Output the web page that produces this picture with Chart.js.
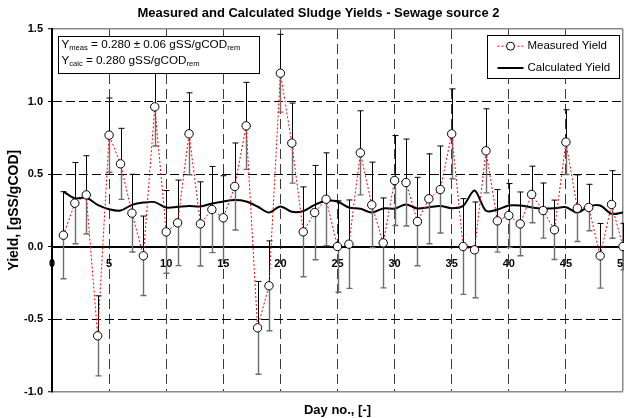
<!DOCTYPE html>
<html>
<head>
<meta charset="utf-8">
<title>Sludge Yields</title>
<script src="https://cdn.jsdelivr.net/npm/chart.js@4.4.1/dist/chart.umd.min.js"></script>
<style>
    html, body { margin: 0; padding: 0; background: #fff; }
    #wrap { width: 624px; height: 418px; }
</style>
</head>
<body>
<div id="wrap"><canvas id="yieldChart" width="624" height="418"></canvas></div>
<script>
// Day numbers (x values)
const days = [1, 2, 3, 4, 5, 6, 7, 8, 9, 10, 11, 12, 13, 14, 15, 16, 17, 18, 19, 20,
    21, 22, 23, 24, 25, 26, 27, 28, 29, 30, 31, 32, 33, 34, 35, 36, 37, 38, 39, 40,
    41, 42, 43, 44, 45, 46, 47, 48, 49, 50];

// Measured yield, gSS/gCOD
const measuredYield = [0.078, 0.299, 0.356, -0.616, 0.768, 0.570, 0.230, -0.064, 0.963, 0.101,
    0.163, 0.777, 0.156, 0.255, 0.198, 0.414, 0.832, -0.561, -0.271, 1.195,
    0.713, 0.101, 0.234, 0.326, 0.000, 0.016, 0.646, 0.287, 0.025, 0.455,
    0.441, 0.172, 0.329, 0.393, 0.777, 0.000, -0.023, 0.660, 0.177, 0.214,
    0.156, 0.359, 0.248, 0.115, 0.720, 0.264, 0.269, -0.064, 0.290, 0.000];

// Error bar half widths of the measured yield
const measuredErr = [0.300, 0.280, 0.270, 0.276, 0.256, 0.245, 0.268, 0.274, 0.270, 0.285,
    0.295, 0.283, 0.290, 0.297, 0.290, 0.300, 0.300, 0.320, 0.310, 0.268,
    0.276, 0.310, 0.325, 0.320, 0.315, 0.305, 0.290, 0.295, 0.310, 0.310,
    0.300, 0.305, 0.310, 0.300, 0.310, 0.330, 0.330, 0.290, 0.216, 0.220,
    0.220, 0.195, 0.190, 0.205, 0.223, 0.230, 0.160, 0.223, 0.233, 0.160];

// Calculated yield, gSS/gCOD
const calculatedYield = [0.379, 0.332, 0.336, 0.287, 0.257, 0.248, 0.287, 0.303, 0.306, 0.269,
    0.274, 0.280, 0.276, 0.297, 0.310, 0.320, 0.310, 0.276, 0.234, 0.276,
    0.239, 0.244, 0.287, 0.315, 0.310, 0.269, 0.260, 0.234, 0.262, 0.262,
    0.290, 0.262, 0.271, 0.280, 0.264, 0.280, 0.386, 0.246, 0.255, 0.283,
    0.283, 0.269, 0.262, 0.264, 0.271, 0.234, 0.276, 0.283, 0.225, 0.234];

const xTicks = [0, 5, 10, 15, 20, 25, 30, 35, 40, 45, 50];
const yTicks = [-1.0, -0.5, 0.0, 0.5, 1.0, 1.5];

const seriesNames = ['Measured Yield', 'Calculated Yield'];

// Stats box lines: [main, subscript, main, subscript]
const statsLines = [
    ['Y', 'meas', ' = 0.280 \u00b1 0.06 gSS/gCOD', 'rem'],
    ['Y', 'calc', ' = 0.280 gSS/gCOD', 'rem'],
];

const FONT = "'Liberation Sans', Arial, Helvetica, sans-serif";
Chart.defaults.font.family = FONT;
Chart.defaults.color = '#000';

const X_MIN = xTicks[0], X_MAX = xTicks[xTicks.length - 1];
const Y_MIN = yTicks[0], Y_MAX = yTicks[yTicks.length - 1];

// Draws the vertical error bars under the measured series
const errorBars = {
    id: 'errorBars',
    beforeDatasetDraw(chart, args) {
        if (args.index !== 0) return;
        const { ctx } = chart;
        const xs = chart.scales.x, ys = chart.scales.y;
        const cap = 3;
        ctx.save();
        for (let i = 0; i < days.length; i++) {
            const px = Math.round(xs.getPixelForValue(days[i])) + 0.5;
            const pv = ys.getPixelForValue(measuredYield[i]);
            const pt = ys.getPixelForValue(measuredYield[i] + measuredErr[i]);
            const pb = ys.getPixelForValue(measuredYield[i] - measuredErr[i]);
            // plus part
            ctx.strokeStyle = '#000';
            ctx.lineWidth = 1;
            ctx.beginPath();
            ctx.moveTo(px, pv);
            ctx.lineTo(px, pt);
            ctx.moveTo(px - cap, pt);
            ctx.lineTo(px + cap, pt);
            ctx.stroke();
            // minus part
            ctx.strokeStyle = '#6e6e6e';
            ctx.lineWidth = 1.4;
            ctx.beginPath();
            ctx.moveTo(px, pv);
            ctx.lineTo(px, pb);
            ctx.moveTo(px - cap, pb);
            ctx.lineTo(px + cap, pb);
            ctx.stroke();
        }
        ctx.restore();
    },
};

// Stats box (top left) and legend box (top right)
const insetBoxes = {
    id: 'insetBoxes',
    afterDatasetsDraw(chart) {
        const { ctx, chartArea } = chart;
        ctx.save();

        // stats box
        const sx = Math.round(chartArea.left + 6) + 0.5, sy = Math.round(chartArea.top + 7) + 0.5;
        const sw = 201, sh = 37;
        ctx.fillStyle = '#fff';
        ctx.fillRect(sx, sy, sw, sh);
        ctx.strokeStyle = '#000';
        ctx.lineWidth = 1;
        ctx.strokeRect(sx, sy, sw, sh);
        ctx.fillStyle = '#000';
        ctx.textBaseline = 'alphabetic';
        ctx.textAlign = 'left';
        statsLines.forEach((parts, row) => {
            let tx = sx + 3;
            const base = sy + 11.5 + row * 16.3;
            parts.forEach((txt, k) => {
                const isSub = k % 2 === 1;
                ctx.font = (isSub ? '7.6px ' : '11.7px ') + FONT;
                ctx.fillText(txt, tx, isSub ? base + 2 : base);
                tx += ctx.measureText(txt).width;
            });
        });

        // legend box
        const lx = Math.round(chartArea.right - 136) + 0.5, ly = Math.round(chartArea.top + 6) + 0.5;
        const lw = 132, lh = 43;
        ctx.fillStyle = '#fff';
        ctx.fillRect(lx, ly, lw, lh);
        ctx.strokeStyle = '#000';
        ctx.strokeRect(lx, ly, lw, lh);
        ctx.font = '11.5px ' + FONT;
        ctx.textBaseline = 'middle';
        const rows = [ly + 10.7, ly + 32.5];

        // measured sample
        ctx.strokeStyle = '#ff0000';
        ctx.lineWidth = 1;
        ctx.setLineDash([2, 2]);
        ctx.beginPath();
        ctx.moveTo(lx + 10, rows[0]);
        ctx.lineTo(lx + 36, rows[0]);
        ctx.stroke();
        ctx.setLineDash([]);
        ctx.fillStyle = '#fff';
        ctx.strokeStyle = '#000';
        ctx.beginPath();
        ctx.arc(lx + 23, rows[0], 4, 0, Math.PI * 2);
        ctx.fill();
        ctx.stroke();

        // calculated sample
        ctx.lineWidth = 2;
        ctx.beginPath();
        ctx.moveTo(lx + 10, rows[1]);
        ctx.lineTo(lx + 36, rows[1]);
        ctx.stroke();

        ctx.fillStyle = '#000';
        ctx.fillText(seriesNames[0], lx + 40, rows[0]);
        ctx.fillText(seriesNames[1], lx + 40, rows[1]);
        ctx.restore();
    },
};

const isEdge = (v, lo, hi) => v === lo || v === hi;

const ctx = document.getElementById('yieldChart').getContext('2d');
const chart = new Chart(ctx, {
    type: 'line',
    data: {
        datasets: [
            {
                label: seriesNames[0],
                data: days.map((d, i) => ({ x: d, y: measuredYield[i] })),
                borderColor: '#ff0000',
                borderWidth: 1,
                borderDash: [2, 2],
                pointRadius: 4.2,
                pointBackgroundColor: '#fff',
                pointBorderColor: '#000',
                pointBorderWidth: 1,
                tension: 0,
                clip: false,
                order: 0,
            },
            {
                label: seriesNames[1],
                data: days.map((d, i) => ({ x: d, y: calculatedYield[i] })),
                borderColor: '#000',
                borderWidth: 2,
                pointRadius: 0,
                tension: 0.3,
                order: 1,
            },
        ],
    },
    options: {
        responsive: false,
        animation: false,
        events: [],
        layout: { autoPadding: false, padding: { left: 14, right: 1, top: 0, bottom: 0 } },
        plugins: {
            legend: { display: false },
            tooltip: { enabled: false },
            title: {
                display: true,
                text: 'Measured and Calculated Sludge Yields - Sewage source 2',
                font: { size: 13, weight: 'bold' },
                color: '#000',
                padding: { top: 6, bottom: 7.4 },
            },
        },
        scales: {
            x: {
                type: 'linear',
                position: { y: 0 },
                min: X_MIN,
                max: X_MAX,
                afterBuildTicks: (s) => { s.ticks = xTicks.map((v) => ({ value: v })); },
                // the axis sits at y = 0, its labels must not push the plot edges
                afterFit: (s) => { s.paddingLeft = 0; s.paddingRight = 0; },
                ticks: {
                    font: { size: 11, weight: 'bold' },
                    color: '#000',
                    padding: 11,
                    maxRotation: 0,
                    autoSkip: false,
                },
                grid: {
                    drawTicks: false,
                    color: (c) => (c.tick && c.tick.value === X_MAX ? '#8a8a8a' : (c.tick && c.tick.value === X_MIN ? 'rgba(0,0,0,0)' : '#3a3a3a')),
                    lineWidth: (c) => (c.tick && c.tick.value === X_MAX ? 1.5 : 1),
                },
                border: {
                    display: true,
                    color: '#000',
                    width: 2,
                    dash: (c) => (c.type === 'tick' && c.tick.value !== X_MAX ? [10, 5] : []),
                },
            },
            x2: {
                type: 'linear',
                position: 'bottom',
                axis: 'x',
                min: X_MIN,
                max: X_MAX,
                ticks: { display: false },
                grid: { display: false },
                border: { display: false },
                title: {
                    display: true,
                    text: 'Day no., [-]',
                    font: { size: 13, weight: 'bold' },
                    color: '#000',
                    padding: { top: 0, bottom: 0 },
                },
                afterFit: (s) => { s.height = 26.5; s.paddingLeft = 0; s.paddingRight = 0; },
            },
            y: {
                type: 'linear',
                position: 'left',
                min: Y_MIN,
                max: Y_MAX,
                afterBuildTicks: (s) => { s.ticks = yTicks.map((v) => ({ value: v })); },
                ticks: {
                    font: { size: 11, weight: 'bold' },
                    color: '#000',
                    padding: 5,
                    callback: (v) => Number(v).toFixed(1),
                },
                grid: {
                    tickLength: 4,
                    tickColor: '#000',
                    tickWidth: 1,
                    tickBorderDash: [],
                    color: (c) => (c.tick && isEdge(c.tick.value, Y_MIN, Y_MAX) ? '#8a8a8a' : '#000'),
                    lineWidth: (c) => (c.tick && isEdge(c.tick.value, Y_MIN, Y_MAX) ? 1.5 : 1),
                },
                border: {
                    display: true,
                    color: '#000',
                    width: 2,
                    dash: (c) => (c.type === 'tick' && !isEdge(c.tick.value, Y_MIN, Y_MAX) ? [9, 4] : []),
                },
                title: {
                    display: true,
                    text: 'Yield, [gSS/gCOD]',
                    font: { size: 14, weight: 'bold' },
                    color: '#000',
                    padding: { top: -8, bottom: 0 },
                },
                afterFit: (s) => { s.width = 38; },
            },
        },
    },
    plugins: [errorBars, insetBoxes],
});
</script>
</body>
</html>
